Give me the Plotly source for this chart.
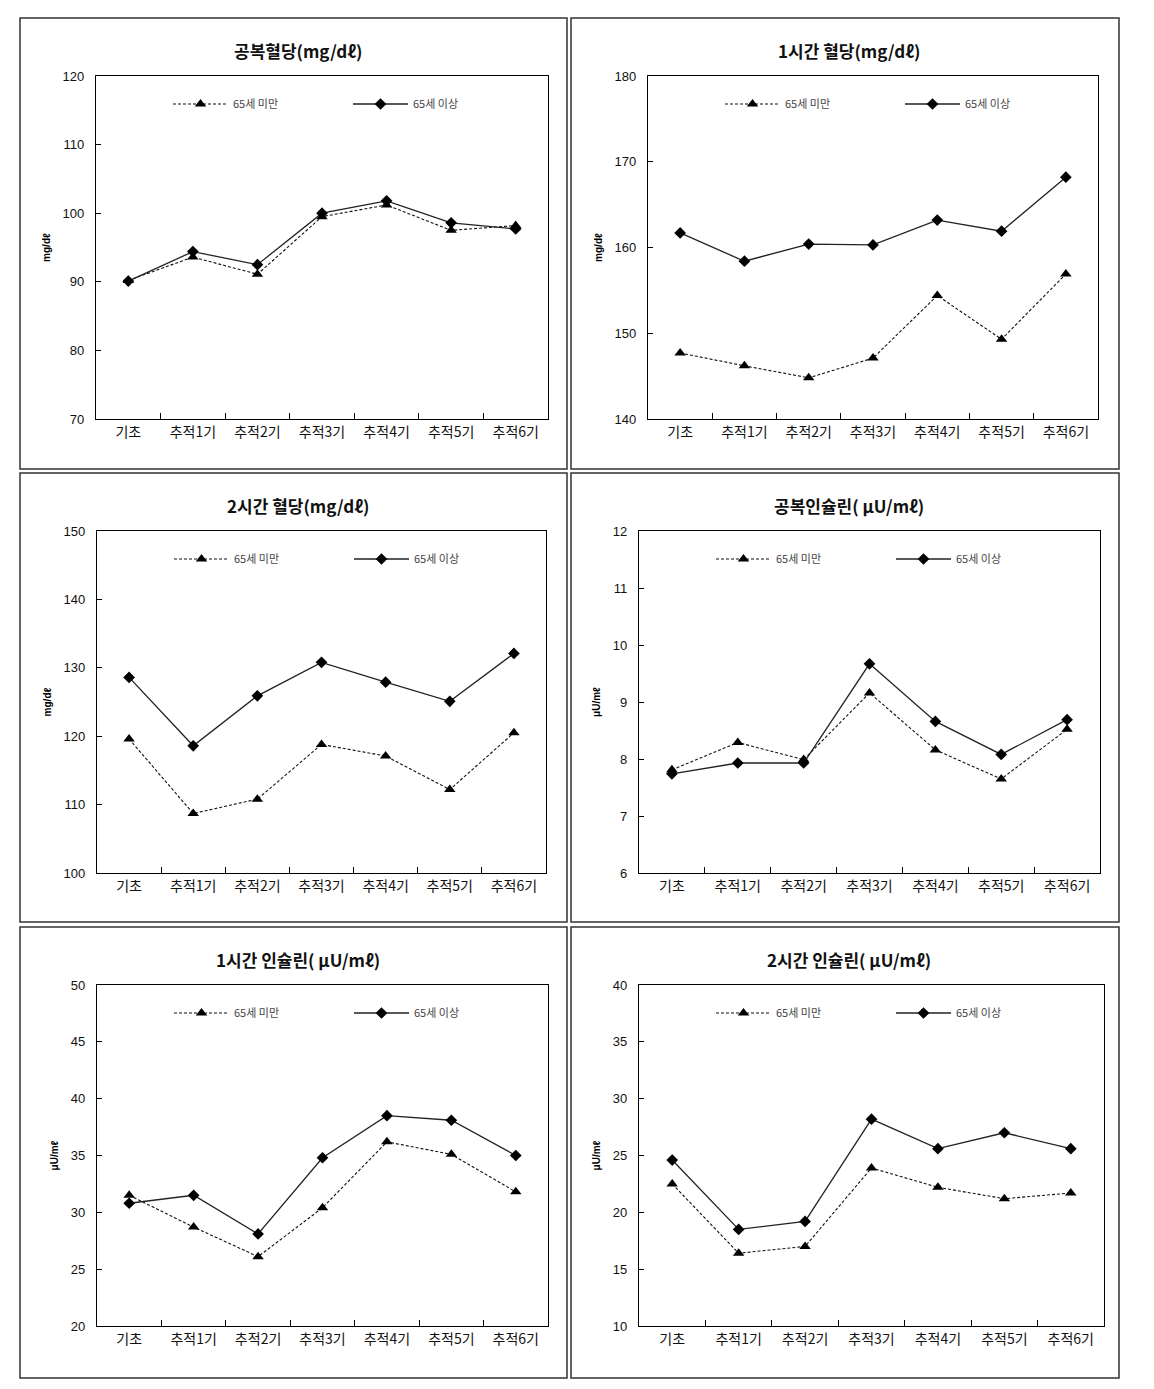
import plotly.graph_objects as go

categories = ["기초", "추적1기", "추적2기", "추적3기", "추적4기", "추적5기", "추적6기"]
series_names = ["65세 미만", "65세 이상"]

titles = ["공복혈당(mg/dℓ)", "1시간 혈당(mg/dℓ)", "2시간 혈당(mg/dℓ)",
          "공복인슐린( μU/mℓ)", "1시간 인슐린( μU/mℓ)", "2시간 인슐린( μU/mℓ)"]
ytitles = ["mg/dℓ", "mg/dℓ", "mg/dℓ", "μU/mℓ", "μU/mℓ", "μU/mℓ"]
yranges = [(70, 120), (140, 180), (100, 150), (6, 12), (20, 50), (10, 40)]
ydticks = [10, 10, 10, 1, 5, 5]

fbg_under = [90.2, 93.6, 91.1, 99.5, 101.2, 97.5, 98.2]
fbg_over = [90.1, 94.4, 92.5, 100.0, 101.8, 98.6, 97.7]
bg1_under = [147.7, 146.2, 144.8, 147.1, 154.4, 149.3, 156.9]
bg1_over = [161.7, 158.4, 160.4, 160.3, 163.2, 161.9, 168.2]
bg2_under = [119.6, 108.7, 110.8, 118.8, 117.1, 112.2, 120.5]
bg2_over = [128.6, 118.6, 125.9, 130.8, 127.9, 125.1, 132.1]
fins_under = [7.81, 8.29, 7.99, 9.16, 8.16, 7.65, 8.52]
fins_over = [7.74, 7.93, 7.93, 9.67, 8.66, 8.08, 8.69]
ins1_under = [31.5, 28.7, 26.1, 30.4, 36.2, 35.1, 31.8]
ins1_over = [30.8, 31.5, 28.1, 34.8, 38.5, 38.1, 35.0]
ins2_under = [22.5, 16.4, 17.0, 23.9, 22.2, 21.2, 21.7]
ins2_over = [24.6, 18.5, 19.2, 28.2, 25.6, 27.0, 25.6]

data = [(fbg_under, fbg_over), (bg1_under, bg1_over), (bg2_under, bg2_over),
        (fins_under, fins_over), (ins1_under, ins1_over), (ins2_under, ins2_over)]

W, H = 1154, 1389
# page offset / vertical fit of the rendered figure
OX, OY, VH = 8, 15, 1374


def px(x):
    return (x - OX) / W


def py(y):
    return 1 - (y - OY) / VH


# panel frames and plot areas, in target-picture pixels
frames = [(20, 18, 567, 469), (571, 18, 1119, 469),
          (20, 473, 567, 922), (571, 473, 1119, 922),
          (20, 927, 567, 1378), (571, 927, 1119, 1378)]
plots = [(96, 76, 548, 419), (648, 76, 1098, 419),
         (97, 531, 546, 873), (639, 531, 1100, 873),
         (97, 985, 548, 1326), (639, 985, 1104, 1326)]

KFONT = "Noto Sans CJK KR"
fig = go.Figure()
layout = dict(width=W, height=H, margin=dict(l=0, r=0, t=0, b=0),
              paper_bgcolor="white", plot_bgcolor="white", showlegend=True,
              shapes=[], annotations=[])

for i in range(6):
    n = "" if i == 0 else str(i + 1)
    l, t, r, b = plots[i]
    fl, ft, fr, fb = frames[i]
    under, over = data[i]
    lg = "legend" + n
    fig.add_trace(go.Scatter(x=categories, y=under, name=series_names[0], mode="lines+markers",
                             line=dict(color="#111", width=1.1, dash="3px,2px"),
                             marker=dict(symbol="triangle-up", size=10, color="black"),
                             xaxis="x" + n, yaxis="y" + n, legend=lg))
    fig.add_trace(go.Scatter(x=categories, y=over, name=series_names[1], mode="lines+markers",
                             line=dict(color="#222", width=1.3),
                             marker=dict(symbol="diamond", size=9, color="black"),
                             xaxis="x" + n, yaxis="y" + n, legend=lg))
    lo, hi = yranges[i]
    layout["xaxis" + n] = dict(domain=[px(l), px(r)], anchor="y" + n, type="category",
                               showline=True, linecolor="black", linewidth=1.2, mirror=True,
                               ticks="inside", tickson="boundaries", ticklen=6, tickcolor="black",
                               showgrid=False, zeroline=False,
                               tickfont=dict(family=KFONT, size=14, color="#111"),
                               range=[-0.5, 6.5])
    layout["yaxis" + n] = dict(domain=[py(b), py(t)], anchor="x" + n,
                               range=[lo, hi], dtick=ydticks[i], tick0=lo,
                               showline=True, linecolor="black", linewidth=1.2, mirror=True,
                               ticks="inside", ticklen=5, tickcolor="black",
                               showgrid=False, zeroline=False,
                               tickfont=dict(family="Liberation Sans", size=13, color="#111"),
                               ticklabelstandoff=8,
                               title=dict(text="<b>" + ytitles[i] + "</b>", standoff=10,
                                          font=dict(family="Liberation Sans", size=10, color="black")))
    layout[lg] = dict(x=px(l + 72), y=py(t + 28), xanchor="left", yanchor="middle",
                      orientation="h", bgcolor="rgba(0,0,0,0)",
                      font=dict(family=KFONT, size=11, color="#444"),
                      itemwidth=55, entrywidth=110, entrywidthmode="pixels", itemclick=False)
    layout["shapes"].append(dict(type="rect", xref="paper", yref="paper",
                                 x0=px(fl), x1=px(fr), y0=py(fb), y1=py(ft),
                                 line=dict(color="#333", width=1.5)))
    layout["annotations"].append(dict(text="<b>" + titles[i] + "</b>", xref="paper", yref="paper",
                                      x=px((fl + fr) / 2 + 4), y=py(ft + 32),
                                      xanchor="center", yanchor="middle", showarrow=False,
                                      font=dict(family=KFONT, size=17, color="#111")))

fig.update_layout(**layout)
fig.write_html("out.html")
